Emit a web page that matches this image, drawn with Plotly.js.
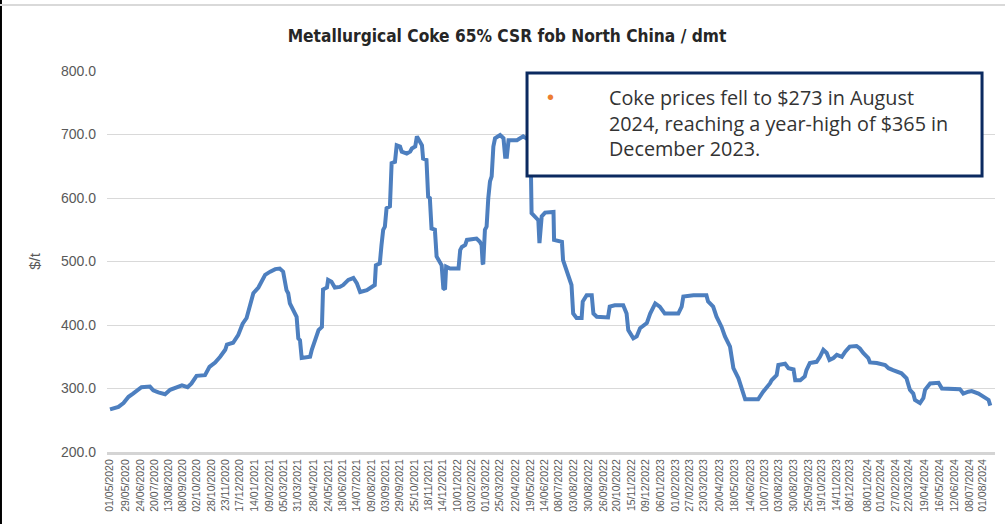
<!DOCTYPE html>
<html>
<head>
<meta charset="utf-8">
<script src="https://cdn.plot.ly/plotly-3.0.1.min.js"></script>
<style>html,body{margin:0;padding:0;background:#fff}#chart{width:1005px;height:524px}</style>
</head>
<body>
<div id="chart"></div>
<script>
// ---- Data ----
const chartTitle = 'Metallurgical Coke 65% CSR fob North China / dmt';
const yTitle = '$/t';
const noteText = 'Coke prices fell to $273 in August<br>2024, reaching a year-high of $365 in<br>December 2023.';

const dates = [
'2020-05-01','2020-05-16','2020-05-25','2020-06-03','2020-06-11','2020-06-20','2020-06-26','2020-07-11','2020-07-17','2020-07-26',
'2020-08-07','2020-08-16','2020-08-28','2020-09-06','2020-09-16','2020-09-23','2020-10-02','2020-10-17','2020-10-25','2020-11-04',
'2020-11-13','2020-11-22','2020-11-25','2020-12-06','2020-12-15','2020-12-23','2020-12-30','2021-01-05','2021-01-11','2021-01-20',
'2021-01-26','2021-02-01','2021-02-10','2021-02-19','2021-02-27','2021-03-05','2021-03-11','2021-03-14','2021-03-17','2021-03-23',
'2021-03-29','2021-04-01','2021-04-04','2021-04-07','2021-04-22','2021-04-25','2021-05-01','2021-05-07','2021-05-13','2021-05-15',
'2021-05-22','2021-05-24','2021-05-30','2021-06-05','2021-06-14','2021-06-20','2021-06-29','2021-07-08','2021-07-14','2021-07-20',
'2021-08-01','2021-08-10','2021-08-15','2021-08-17','2021-08-24','2021-08-27','2021-08-30','2021-09-02','2021-09-05','2021-09-11',
'2021-09-14','2021-09-20','2021-09-23','2021-09-29','2021-10-02','2021-10-11','2021-10-17','2021-10-20','2021-10-26','2021-10-29',
'2021-10-31','2021-11-07','2021-11-09','2021-11-15','2021-11-18','2021-11-21','2021-11-24','2021-11-30','2021-12-03','2021-12-09',
'2021-12-12','2021-12-15','2021-12-18','2021-12-20','2021-12-27','2022-01-11','2022-01-14','2022-01-17','2022-01-23','2022-01-26',
'2022-02-12','2022-02-18','2022-02-21','2022-02-23','2022-02-24','2022-02-27','2022-03-02','2022-03-05','2022-03-08','2022-03-11',
'2022-03-14','2022-03-17','2022-03-26','2022-04-01','2022-04-04','2022-04-07','2022-04-10','2022-04-25','2022-04-30','2022-05-06',
'2022-05-15','2022-05-19','2022-05-21','2022-05-27','2022-06-02','2022-06-04','2022-06-06','2022-06-08','2022-06-14','2022-06-29',
'2022-06-30','2022-07-14','2022-07-16','2022-07-25','2022-07-31','2022-08-03','2022-08-09','2022-08-18','2022-08-20','2022-08-27',
'2022-09-05','2022-09-08','2022-09-14','2022-10-04','2022-10-07','2022-10-16','2022-10-31','2022-11-06','2022-11-09','2022-11-18',
'2022-11-24','2022-11-30','2022-12-12','2022-12-18','2022-12-27','2023-01-04','2023-01-13','2023-02-06','2023-02-12','2023-02-15',
'2023-03-05','2023-03-28','2023-03-31','2023-04-09','2023-04-15','2023-04-24','2023-04-30','2023-05-09','2023-05-15','2023-05-24',
'2023-05-30','2023-06-05','2023-06-28','2023-07-07','2023-07-19','2023-07-22','2023-07-31','2023-08-03','2023-08-15','2023-08-21',
'2023-08-30','2023-09-02','2023-09-11','2023-09-19','2023-09-22','2023-09-28','2023-10-10','2023-10-16','2023-10-22','2023-10-28',
'2023-11-02','2023-11-09','2023-11-15','2023-11-24','2023-11-30','2023-12-08','2023-12-20','2023-12-26','2024-01-01','2024-01-10',
'2024-01-13','2024-01-25','2024-02-09','2024-02-15','2024-02-23','2024-03-03','2024-03-09','2024-03-18','2024-03-24','2024-03-30',
'2024-04-02','2024-04-11','2024-04-17','2024-04-20','2024-04-29','2024-05-14','2024-05-20','2024-06-21','2024-06-27','2024-07-06',
'2024-07-12','2024-07-24','2024-08-02','2024-08-11','2024-08-14'
];

const prices = [
267,271,277,287,292,299,302,303,297,294,
291,298,302,305,302,308,320,321,334,341,
350,361,369,372,384,402,411,431,450,459,
470,479,484,488,489,484,455,450,434,425,
413,379,376,348,350,361,376,392,397,456,
459,471,468,459,460,463,471,474,466,452,
455,460,463,494,497,526,550,555,584,587,
655,657,683,681,673,670,673,678,681,697,
694,683,662,660,602,600,552,550,508,497,
494,458,456,492,489,489,518,523,526,534,
536,531,526,497,496,550,555,600,626,634,
681,694,699,694,665,665,691,691,694,697,
692,690,576,571,565,529,560,571,577,578,
534,531,502,481,463,418,411,411,437,447,
447,418,413,412,429,431,431,418,392,379,
382,395,403,418,434,429,418,418,429,445,
447,447,437,429,413,397,382,366,332,316,
298,283,283,295,308,313,321,337,339,332,
330,313,313,319,329,340,342,350,361,356,
345,348,353,350,358,366,367,363,356,348,
341,340,337,332,329,326,324,316,298,292,
282,277,285,298,308,309,300,299,292,295,
296,292,287,282,273
];

const tickLabels = [
'01/05/2020','29/05/2020','24/06/2020','20/07/2020','13/08/2020','08/09/2020','02/10/2020','28/10/2020','23/11/2020','17/12/2020',
'14/01/2021','09/02/2021','05/03/2021','31/03/2021','28/04/2021','24/05/2021','18/06/2021','14/07/2021','09/08/2021','03/09/2021',
'29/09/2021','25/10/2021','18/11/2021','14/12/2021','10/01/2022','03/02/2022','01/03/2022','25/03/2022','22/04/2022','19/05/2022',
'14/06/2022','08/07/2022','03/08/2022','30/08/2022','26/09/2022','20/10/2022','15/11/2022','09/12/2022','06/01/2023','01/02/2023',
'27/02/2023','23/03/2023','20/04/2023','18/05/2023','14/06/2023','10/07/2023','03/08/2023','30/08/2023','25/09/2023','19/10/2023',
'14/11/2023','08/12/2023','08/01/2024','01/02/2024','27/02/2024','22/03/2024','19/04/2024','16/05/2024','12/06/2024','08/07/2024',
'01/08/2024'
];
const yTicks = [200, 300, 400, 500, 600, 700, 800];

// ---- Build chart ----
const tickVals = tickLabels.map(s => { const p = s.split('/'); return p[2] + '-' + p[1] + '-' + p[0]; });

const trace = {
  x: dates, y: prices, type: 'scatter', mode: 'lines',
  line: {color: '#4d7fbf', width: 4}, hoverinfo: 'x+y', showlegend: false
};

const layout = {
  width: 1005, height: 524,
  margin: {l: 107, r: 10, t: 71, b: 72},
  paper_bgcolor: '#ffffff', plot_bgcolor: '#ffffff',
  font: {family: 'Liberation Sans, Arial, sans-serif', color: '#595959'},
  title: {
    text: chartTitle,
    font: {family: 'Liberation Sans Narrow, DejaVu Sans Condensed, Liberation Sans, sans-serif', size: 17.2, color: '#262626', weight: 'bold'},
    xref: 'container', yref: 'container', x: 0.5045, y: 0.931, xanchor: 'center', yanchor: 'middle'
  },
  xaxis: {
    type: 'date', range: ['2020-04-25 16:00', '2024-08-22 10:00'],
    tickmode: 'array', tickvals: tickVals, ticktext: tickLabels, tickangle: -90,
    tickfont: {size: 10.5, color: '#595959'}, showgrid: false, zeroline: false,
    showline: true, linecolor: '#d4d4d4', linewidth: 3, ticks: '', fixedrange: true
  },
  yaxis: {
    range: [200, 800], tickmode: 'array', tickvals: yTicks, tickformat: '.1f',
    tickfont: {size: 14, color: '#595959'}, showgrid: true, gridcolor: '#d9d9d9', gridwidth: 1,
    zeroline: false, showline: false, ticks: '', ticklabelstandoff: 10,
    title: {text: yTitle, font: {size: 15, color: '#595959'}, standoff: 16}, fixedrange: true
  },
  shapes: [
    {type: 'line', xref: 'paper', yref: 'paper', x0: -0.1194, x1: -0.1194, y0: -0.19, y1: 1.19, line: {color: '#000000', width: 2}},
    {type: 'line', xref: 'paper', yref: 'paper', x0: -0.125, x1: 1.02, y0: 1.1732, y1: 1.1732, line: {color: '#d9d9d9', width: 2}},
    {type: 'rect', xref: 'paper', yref: 'paper', x0: 0.473, x1: 0.9854, y0: 0.7244, y1: 0.9948, layer: 'above',
     fillcolor: '#ffffff', line: {color: '#0b2a60', width: 3}}
  ],
  annotations: [
    {xref: 'paper', yref: 'paper', x: 0.4989, y: 0.9318, xanchor: 'center', yanchor: 'middle', showarrow: false,
     text: '•', font: {family: 'Liberation Sans, Arial, sans-serif', size: 20, color: '#ed7d31'}},
    {xref: 'paper', yref: 'paper', x: 0.5635, y: 0.972, xanchor: 'left', yanchor: 'top', align: 'left', showarrow: false,
     text: noteText, font: {family: 'Open Sans, Noto Sans, sans-serif', size: 19.8, color: '#333333'}}
  ]
};

Plotly.newPlot('chart', [trace], layout, {displayModeBar: false, staticPlot: true});
</script>
</body>
</html>
